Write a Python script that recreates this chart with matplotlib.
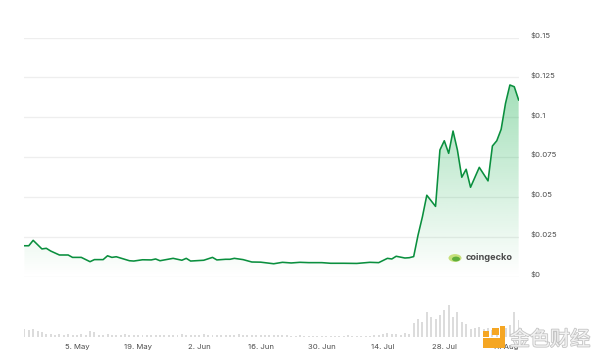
import matplotlib
matplotlib.use("Agg")
import matplotlib.pyplot as plt
import matplotlib.dates as mdates
import matplotlib.patheffects as pe
import matplotlib.transforms as mtransforms
from matplotlib.patches import Rectangle, Circle, PathPatch
import numpy as np
import pandas as pd

plt.rcParams['font.family'] = ['Inter', 'DejaVu Sans']

# ---- data ----
price_dates = ["2024-04-23", "2024-04-24", "2024-04-25", "2024-04-27", "2024-04-28", "2024-04-29",
               "2024-05-01", "2024-05-03", "2024-05-04", "2024-05-06", "2024-05-08", "2024-05-09",
               "2024-05-11", "2024-05-12", "2024-05-13", "2024-05-14", "2024-05-17", "2024-05-18",
               "2024-05-20", "2024-05-22", "2024-05-23", "2024-05-24", "2024-05-27", "2024-05-29",
               "2024-05-30", "2024-05-31", "2024-06-03", "2024-06-05", "2024-06-06", "2024-06-08",
               "2024-06-09", "2024-06-10", "2024-06-12", "2024-06-14", "2024-06-16", "2024-06-19",
               "2024-06-21", "2024-06-23", "2024-06-25", "2024-06-27", "2024-06-30", "2024-07-02",
               "2024-07-05", "2024-07-08", "2024-07-11", "2024-07-13", "2024-07-15", "2024-07-16",
               "2024-07-17", "2024-07-19", "2024-07-20", "2024-07-21", "2024-07-22", "2024-07-23",
               "2024-07-24", "2024-07-26", "2024-07-27", "2024-07-28", "2024-07-29", "2024-07-30",
               "2024-07-31", "2024-08-01", "2024-08-02", "2024-08-03", "2024-08-05", "2024-08-07",
               "2024-08-08", "2024-08-09", "2024-08-10", "2024-08-11", "2024-08-12", "2024-08-13",
               "2024-08-14"]
price_values = [0.0193, 0.0193, 0.0227, 0.0173, 0.0177, 0.0160,
                0.0135, 0.0135, 0.0120, 0.0120, 0.0093, 0.0106,
                0.0106, 0.0130, 0.0120, 0.0124, 0.0099, 0.0097,
                0.0105, 0.0104, 0.0110, 0.0099, 0.0114, 0.0102,
                0.0114, 0.0097, 0.0102, 0.0120, 0.0104, 0.0108,
                0.0108, 0.0114, 0.0106, 0.0091, 0.0090, 0.0080,
                0.0089, 0.0085, 0.0089, 0.0087, 0.0087, 0.0083,
                0.0083, 0.0082, 0.0089, 0.0087, 0.0114, 0.0110,
                0.0127, 0.0116, 0.0118, 0.0125, 0.0260, 0.0375,
                0.0510, 0.0440, 0.0794, 0.0852, 0.0773, 0.0913,
                0.0794, 0.0623, 0.0673, 0.0560, 0.0685, 0.0600,
                0.0819, 0.0852, 0.0924, 0.1087, 0.1202, 0.1191,
                0.1108]

volume_start = "2024-04-23"
volume_values = [8, 7, 8, 6, 5,
                 3, 3, 2, 3, 2, 3, 2, 2, 3, 2,
                 6, 5,
                 2, 2, 3, 2, 2, 2, 3, 2, 2, 2, 2, 2, 2, 2,
                 2, 2, 2, 2, 2, 3, 2, 2, 2, 2, 3, 2, 2, 2,
                 2, 2, 2, 2, 3, 2, 2, 2, 2, 2, 2, 2, 2, 2, 2, 2,
                 1, 1, 2, 1, 1, 1, 1, 1, 1, 1, 1, 1, 1, 2, 1, 1, 1, 1, 1, 2,
                 2, 3, 4, 3, 3, 2, 4, 3,
                 14, 18, 15, 25, 20, 18, 22, 27, 32, 20, 25, 15, 13, 8, 9, 10,
                 8, 9, 7, 8, 10, 9, 12, 25, 17, 18, 6]

tick_dates = ["2024-05-05", "2024-05-19", "2024-06-02", "2024-06-16",
              "2024-06-30", "2024-07-14", "2024-07-28", "2024-08-11"]
tick_labels = ["5. May", "19. May", "2. Jun", "16. Jun", "30. Jun", "14. Jul", "28. Jul", "11. Aug"]
y_ticks = [0, 0.025, 0.05, 0.075, 0.1, 0.125, 0.15]
y_labels = ["$0", "$0.025", "$0.05", "$0.075", "$0.1", "$0.125", "$0.15"]

# ---- figure ----
W, H = 600, 360
fig = plt.figure(figsize=(6, 3.6), dpi=100)
fig.patch.set_facecolor("white")

x = mdates.date2num(pd.to_datetime(price_dates))
y = np.array(price_values)
xmin = mdates.date2num(pd.Timestamp("2024-04-23")) - 0.05
xmax = mdates.date2num(pd.Timestamp("2024-08-14")) + 0.15

ax = fig.add_axes([24.2 / W, 1 - 276.5 / H, (519.3 - 24.2) / W, (276.5 - 37.5) / H])
ax.set_xlim(xmin, xmax)
ax.set_ylim(0, 0.15)
for s in ax.spines.values():
    s.set_visible(False)
ax.set_xticks([])
ax.yaxis.tick_right()
ax.set_yticks(y_ticks)
ax.set_yticklabels(y_labels)
ax.tick_params(axis="y", length=0, pad=8.3, labelsize=5.6, labelcolor="#4d4d4d")
shift = mtransforms.ScaledTranslation(0, 2.8 / 100, fig.dpi_scale_trans)
for lab in ax.get_yticklabels():
    lab.set_transform(lab.get_transform() + shift)
ax.grid(axis="y", color="#eeeeee", linewidth=0.9)
ax.set_axisbelow(True)

# gradient fill under the line
green = np.array([0, 168, 62]) / 255.0
poly = ax.fill_between(x, y, 0, color="none", linewidth=0)
img = np.zeros((256, 1, 4))
img[..., 0] = green[0]
img[..., 1] = green[1]
img[..., 2] = green[2]
yy = np.linspace(0, 0.15, 256).reshape(-1, 1)
img[..., 3] = np.clip(3.0 * yy, 0, 0.45)
im = ax.imshow(img, aspect="auto", extent=[xmin, xmax, 0, 0.15], origin="lower", zorder=1)
pp = PathPatch(poly.get_paths()[0], transform=ax.transData, facecolor="none", edgecolor="none")
ax.add_patch(pp)
im.set_clip_path(pp)

ax.plot(x, y, color="#0a8f3e", linewidth=1.15, zorder=3)

# volume axes
vax = fig.add_axes([24.2 / W, 1 - 336.7 / H, (519.3 - 24.2) / W, 40 / H])
vdates = mdates.date2num(pd.date_range(volume_start, periods=len(volume_values), freq="D"))
vax.bar(vdates, volume_values, width=0.45, color="#dcdcdc", linewidth=0)
vax.set_xlim(xmin, xmax)
vax.set_ylim(0, 40)
for s in vax.spines.values():
    s.set_visible(False)
vax.axhline(0, color="#e6e6e6", linewidth=0.6, linestyle=(0, (2, 1.5)))
vax.set_yticks([])
vax.set_xticks(mdates.date2num(pd.to_datetime(tick_dates)))
vax.set_xticklabels(tick_labels)
vax.tick_params(axis="x", length=0, pad=5.5, labelsize=5.6, labelcolor="#4d4d4d")

# coingecko logo
fig.patches.append(Circle((455 / W, 1 - 258 / H), 6.5 / W, transform=fig.transFigure,
                          facecolor="#c6e07a", edgecolor="none", zorder=5))
fig.patches.append(Circle((456 / W, 1 - 259 / H), 4.0 / W, transform=fig.transFigure,
                          facecolor="#5fae3c", edgecolor="none", zorder=6))
fig.text(466 / W, 1 - 258 / H, "coingecko", fontsize=6.6, fontweight="bold",
         color="#4b4b4b", va="center", ha="left", zorder=6)

# watermark
for (x0, y0, w, h) in [(483, 338, 22, 10), (500, 326, 5, 22), (492, 328, 7, 7), (483, 331, 6, 6)]:
    fig.patches.append(Rectangle((x0 / W, 1 - (y0 + h) / H), w / W, h / H, transform=fig.transFigure,
                                 facecolor="#f5a623", edgecolor="none", zorder=7))
fig.text(550 / W, 1 - 340 / H, "金色财经", fontsize=14.5, color="#f2f2f2",
         family=["Noto Sans CJK SC", "DejaVu Sans"], ha="center", va="center", zorder=7,
         path_effects=[pe.withStroke(linewidth=1.2, foreground="#c4c4c4")])

fig.savefig("out.png", dpi=100, facecolor="white")
